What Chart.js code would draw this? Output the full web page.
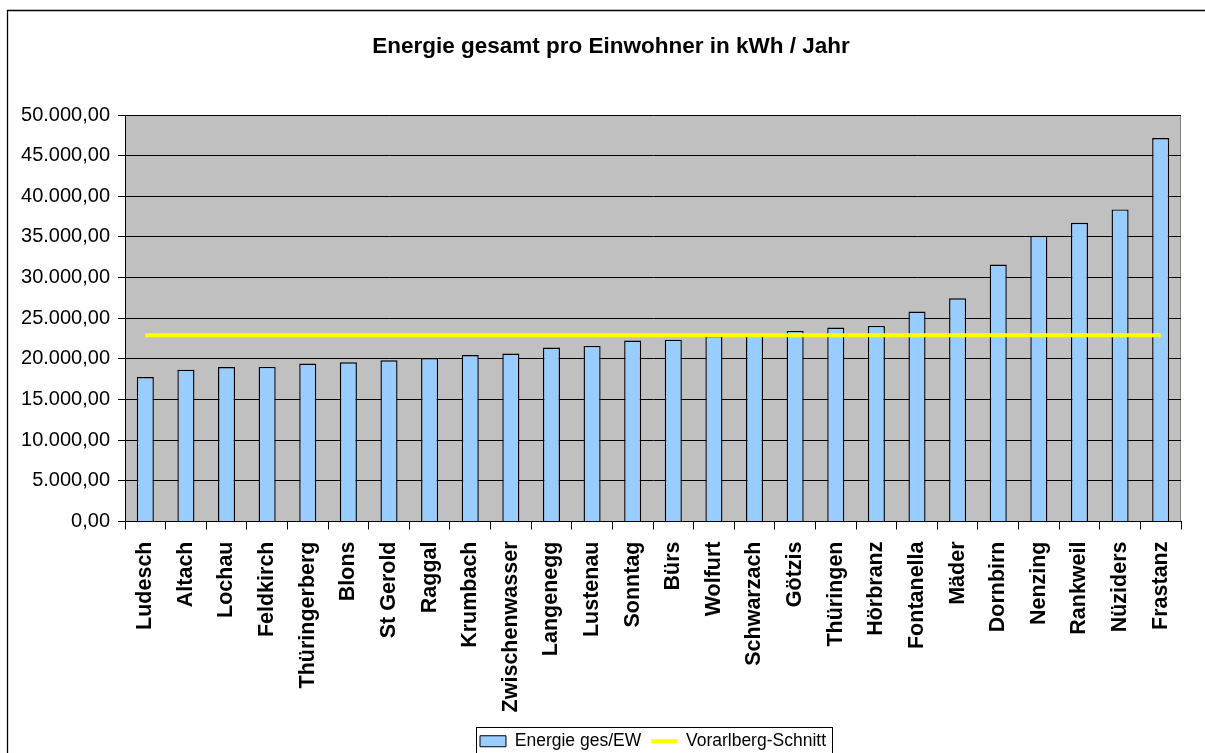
<!DOCTYPE html>
<html lang="de">
<head>
<meta charset="utf-8">
<title>Energie gesamt pro Einwohner</title>
<script src="https://cdn.jsdelivr.net/npm/chart.js@4.4.1/dist/chart.umd.min.js"></script>
<style>
  html, body { margin: 0; padding: 0; background: #fff; overflow: hidden; }
  #wrap { width: 1205px; height: 753px; overflow: hidden; position: relative; }
  canvas { display: block; }
</style>
</head>
<body>
<div id="wrap"><canvas id="c" width="1205" height="760"></canvas></div>
<script>
// Gemeinden, sortiert nach Energieverbrauch pro Einwohner
const gemeinden = ['Ludesch', 'Altach', 'Lochau', 'Feldkirch', 'Thüringerberg', 'Blons', 'St Gerold',
  'Raggal', 'Krumbach', 'Zwischenwasser', 'Langenegg', 'Lustenau', 'Sonntag', 'Bürs', 'Wolfurt',
  'Schwarzach', 'Götzis', 'Thüringen', 'Hörbranz', 'Fontanella', 'Mäder', 'Dornbirn', 'Nenzing',
  'Rankweil', 'Nüziders', 'Frastanz'];

// Energie gesamt je Einwohner (kWh / Jahr)
const energieProEW = [17770, 18680, 19000, 19010, 19420, 19580, 19830, 20110, 20480, 20650,
  21390, 21590, 22250, 22370, 22800, 22900, 23440, 23850, 24060, 25820, 27460, 31610,
  35140, 36740, 38380, 47170];

// Landesdurchschnitt Vorarlberg
const vorarlbergSchnitt = [22900, 22900, 22900, 22900, 22900, 22900, 22900, 22900, 22900, 22900,
  22900, 22900, 22900, 22900, 22900, 22900, 22900, 22900, 22900, 22900, 22900, 22900,
  22900, 22900, 22900, 22900];

// Skala der Werteachse
const yTicks = [0, 5000, 10000, 15000, 20000, 25000, 30000, 35000, 40000, 45000, 50000];

const FONT = '"Liberation Sans", Arial, Helvetica, sans-serif';

function formatDE(v) {
  const whole = Math.round(v).toString().replace(/\B(?=(\d{3})+(?!\d))/g, '.');
  return whole + ',00';
}

// Hintergrund, Rahmen und Zeichenfläche
const framePlugin = {
  id: 'frame',
  beforeDraw(chart) {
    const ctx = chart.ctx;
    const a = chart.chartArea;
    ctx.save();
    ctx.fillStyle = '#ffffff';
    ctx.fillRect(0, 0, chart.width, chart.height);
    ctx.strokeStyle = '#000000';
    ctx.lineWidth = 1.3;
    ctx.beginPath();
    ctx.moveTo(7.5, chart.height + 5);
    ctx.lineTo(7.5, 10.5);
    ctx.lineTo(chart.width + 5, 10.5);
    ctx.stroke();
    ctx.fillStyle = '#c0c0c0';
    ctx.fillRect(a.left, a.top, a.right - a.left, a.bottom - a.top);
    ctx.strokeStyle = '#808080';
    ctx.lineWidth = 1;
    ctx.beginPath();
    ctx.moveTo(a.left, a.top + 0.5);
    ctx.lineTo(a.right - 0.5, a.top + 0.5);
    ctx.lineTo(a.right - 0.5, a.bottom);
    ctx.stroke();
    ctx.restore();
  },
  afterDraw(chart) {
    const lg = chart.legend;
    if (!lg || !lg.legendHitBoxes || !lg.legendHitBoxes.length) return;
    const hb = lg.legendHitBoxes;
    const left = Math.min(...hb.map(h => h.left)) - 4;
    const right = Math.max(...hb.map(h => h.left + h.width)) + 6;
    const top = hb[0].top - 6;
    const ctx = chart.ctx;
    ctx.save();
    ctx.strokeStyle = '#000000';
    ctx.lineWidth = 1;
    ctx.strokeRect(Math.round(left) + 0.5, Math.round(top) + 0.5, Math.round(right - left), 32);
    ctx.restore();
  }
};

new Chart(document.getElementById('c'), {
  type: 'bar',
  data: {
    labels: gemeinden,
    datasets: [
      {
        type: 'bar',
        label: 'Energie ges/EW',
        data: energieProEW,
        backgroundColor: '#99ccff',
        borderColor: '#000000',
        borderWidth: 1.4,
        borderSkipped: 'bottom',
        barPercentage: 0.42,
        categoryPercentage: 1.0,
        order: 1,
        yAxisID: 'y'
      },
      {
        type: 'line',
        label: 'Vorarlberg-Schnitt',
        data: vorarlbergSchnitt,
        borderColor: '#ffff00',
        backgroundColor: '#ffff00',
        borderWidth: 4,
        pointRadius: 0,
        fill: false,
        tension: 0,
        order: 0,
        yAxisID: 'y'
      }
    ]
  },
  options: {
    responsive: false,
    animation: false,
    layout: { padding: { left: 17, right: 0, top: 0, bottom: 0 } },
    plugins: {
      tooltip: { enabled: false },
      title: {
        display: true,
        text: 'Energie gesamt pro Einwohner in kWh / Jahr',
        color: '#000000',
        font: { family: FONT, size: 22.5, weight: 'bold', lineHeight: 1.2 },
        padding: { top: 33.5, bottom: 54.5 }
      },
      legend: {
        position: 'bottom',
        fullSize: false,
        labels: {
          color: '#000000',
          font: { family: FONT, size: 17.5 },
          usePointStyle: true,
          pointStyleWidth: 26,
          boxHeight: 11,
          padding: 10,
          generateLabels(chart) {
            const items = Chart.defaults.plugins.legend.labels.generateLabels(chart);
            items.forEach(it => {
              if (it.datasetIndex === 0) {
                it.pointStyle = 'rect';
                it.lineWidth = 1;
                it.strokeStyle = '#000000';
              } else {
                it.pointStyle = 'line';
                it.lineWidth = 4;
                it.strokeStyle = '#ffff00';
              }
            });
            return items.sort((a, b) => a.datasetIndex - b.datasetIndex);
          }
        }
      }
    },
    scales: {
      x: {
        offset: true,
        grid: {
          offset: true,
          drawOnChartArea: false,
          drawTicks: true,
          tickLength: 8,
          color: '#000000'
        },
        border: { display: true, color: '#000000', width: 1 },
        ticks: {
          color: '#000000',
          font: { family: FONT, size: 21.5, weight: 'bold' },
          minRotation: 90,
          maxRotation: 90,
          autoSkip: false,
          padding: 12
        },
        afterFit(scale) { scale.height = 201; }
      },
      y: {
        position: 'left',
        min: 0,
        max: 50000,
        afterBuildTicks(scale) { scale.ticks = yTicks.map(v => ({ value: v })); },
        grid: {
          color: '#000000',
          lineWidth: 1,
          drawTicks: true,
          tickLength: 7
        },
        border: { display: true, color: '#000000', width: 1 },
        ticks: {
          color: '#000000',
          font: { family: FONT, size: 20 },
          padding: 8,
          callback: v => formatDE(v)
        },
        afterFit(scale) { scale.width = 108; }
      },
      yRight: {
        position: 'right',
        display: true,
        min: 0,
        max: 50000,
        grid: { display: false, drawTicks: false },
        border: { display: false },
        ticks: { display: false },
        afterFit(scale) { scale.width = 24; }
      }
    }
  },
  plugins: [framePlugin]
});
</script>
</body>
</html>
